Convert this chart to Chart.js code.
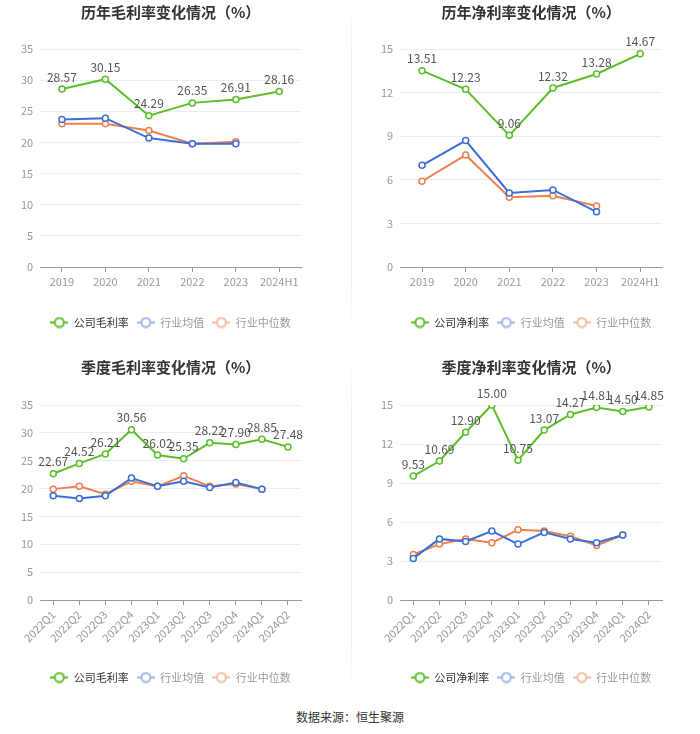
<!DOCTYPE html>
<html>
<head>
<meta charset="utf-8">
<script src="https://cdn.jsdelivr.net/npm/chart.js@4.4.1/dist/chart.umd.min.js"></script>
<style>
  body { margin: 0; background: #fff; font-family: "Noto Sans CJK SC", "Noto Sans", sans-serif; }
  #wrap { position: relative; width: 700px; height: 734px; }
  .box { position: absolute; width: 350px; height: 345px; }
  .sep { position: absolute; left: 351px; width: 1px; background: linear-gradient(#fff, #eee 20%, #eee 80%, #fff); }
  #src { position: absolute; top: 708px; left: 0; width: 700px; text-align: center; font-size: 12px; color: #333; }
</style>
</head>
<body>
<div id="wrap">
  <div class="box" style="left:0;top:0"><canvas id="c1" width="350" height="345"></canvas></div>
  <div class="box" style="left:350px;top:0"><canvas id="c2" width="350" height="345"></canvas></div>
  <div class="box" style="left:0;top:355px"><canvas id="c3" width="350" height="345"></canvas></div>
  <div class="box" style="left:350px;top:355px"><canvas id="c4" width="350" height="345"></canvas></div>
  <div class="sep" style="top:0;height:335px"></div>
  <div class="sep" style="top:355px;height:340px"></div>
  <div id="src">数据来源：恒生聚源</div>
</div>
<script>
var years = ['2019', '2020', '2021', '2022', '2023', '2024H1'];
var grossCompany = [28.57, 30.15, 24.29, 26.35, 26.91, 28.16];
var grossIndAvg = [23.7, 23.9, 20.7, 19.8, 19.8, null];
var grossIndMed = [23.0, 23.0, 21.9, 19.8, 20.1, null];
var netCompany = [13.51, 12.23, 9.06, 12.32, 13.28, 14.67];
var netIndAvg = [7.0, 8.7, 5.1, 5.3, 3.8, null];
var netIndMed = [5.9, 7.7, 4.8, 4.9, 4.2, null];

var quarters = ['2022Q1', '2022Q2', '2022Q3', '2022Q4', '2023Q1', '2023Q2', '2023Q3', '2023Q4', '2024Q1', '2024Q2'];
var qGrossCompany = [22.67, 24.52, 26.21, 30.56, 26.02, 25.35, 28.22, 27.90, 28.85, 27.48];
var qGrossIndAvg = [18.7, 18.2, 18.7, 21.9, 20.4, 21.3, 20.2, 21.1, 19.9, null];
var qGrossIndMed = [19.9, 20.4, 19.0, 21.3, 20.4, 22.3, 20.4, 20.8, 19.9, null];
var qNetCompany = [9.53, 10.69, 12.90, 15.00, 10.75, 13.07, 14.27, 14.81, 14.50, 14.85];
var qNetIndAvg = [3.2, 4.7, 4.5, 5.3, 4.3, 5.2, 4.7, 4.4, 5.0, null];
var qNetIndMed = [3.5, 4.3, 4.7, 4.4, 5.4, 5.3, 4.9, 4.2, 5.0, null];

var FONT = '"Noto Sans CJK SC", "Noto Sans", sans-serif';
var GREEN = '#5cbf2a', BLUE = '#3b6fd6', ORANGE = '#f07f50';

// little "line through hollow circle" icon for the legend
function legendIcon(color) {
    var c = document.createElement('canvas');
    c.width = 18; c.height = 12;
    var g = c.getContext('2d');
    g.strokeStyle = color;
    g.lineWidth = 2;
    g.beginPath(); g.moveTo(0, 6); g.lineTo(18, 6); g.stroke();
    g.beginPath(); g.arc(9, 6, 4.5, 0, Math.PI * 2);
    g.fillStyle = '#fff'; g.fill(); g.stroke();
    return c;
}

var valueLabels = {
    id: 'valueLabels',
    afterDatasetsDraw: function (chart) {
        var meta = chart.getDatasetMeta(0);
        var data = chart.data.datasets[0].data;
        var ctx = chart.ctx;
        ctx.save();
        ctx.font = '12px ' + FONT;
        ctx.fillStyle = '#555';
        ctx.textAlign = 'center';
        ctx.textBaseline = 'middle';
        meta.data.forEach(function (pt, i) {
            ctx.fillText(data[i].toFixed(2), pt.x, pt.y - 12);
        });
        ctx.restore();
    }
};

function makeChart(id, opt) {
    function ds(label, data, color) {
        return {
            label: label, data: data, borderColor: color, backgroundColor: '#fff',
            borderWidth: 2, pointRadius: 3, pointBorderWidth: 1.5, pointHoverRadius: 3,
            pointBackgroundColor: '#fff', tension: 0
        };
    }
    var icons = [legendIcon(GREEN), legendIcon('#9fb5ea'), legendIcon('#f6bba3')];
    var names = [opt.companyName, '行业均值', '行业中位数'];
    var textColors = ['#333', '#999', '#999'];
    var quarterly = opt.labels.length > 6;
    return new Chart(document.getElementById(id), {
        type: 'line',
        data: {
            labels: opt.labels,
            datasets: [
                ds(opt.companyName, opt.company, GREEN),
                ds('行业均值', opt.avg, BLUE),
                ds('行业中位数', opt.med, ORANGE)
            ]
        },
        plugins: [valueLabels],
        options: {
            responsive: false,
            animation: false,
            layout: { padding: { left: opt.padL, right: opt.padR, top: 0, bottom: 7 } },
            plugins: {
                tooltip: { enabled: false },
                title: {
                    display: true, text: opt.title, color: '#333', fullSize: false,
                    font: { family: FONT, size: 15, weight: 'bold' },
                    padding: { top: 3, bottom: opt.titleBottom }
                },
                legend: {
                    position: 'bottom',
                    fullSize: false,
                    labels: {
                        usePointStyle: true, pointStyleWidth: 18, boxHeight: 12,
                        padding: 8, font: { family: FONT, size: 11 },
                        generateLabels: function () {
                            return names.map(function (n, i) {
                                return { text: n, pointStyle: icons[i], fontColor: textColors[i],
                                    datasetIndex: i, hidden: false, lineWidth: 0 };
                            });
                        }
                    }
                }
            },
            scales: {
                x: {
                    offset: true,
                    afterFit: function (s) { s.height = opt.xHeight; },
                    border: { color: '#999' },
                    grid: { drawOnChartArea: false, drawTicks: true, tickLength: 5, color: '#999' },
                    ticks: {
                        color: '#999', font: { family: FONT, size: 11 }, padding: 3,
                        maxRotation: quarterly ? 45 : 0, minRotation: quarterly ? 45 : 0,
                        autoSkip: false
                    }
                },
                y: {
                    min: 0, max: opt.max,
                    border: { display: false },
                    grid: { color: '#e9ecf2', drawTicks: false },
                    ticks: { stepSize: opt.step, color: '#999', font: { family: FONT, size: 11 }, padding: 7 }
                }
            }
        }
    });
}

makeChart('c1', { title: '历年毛利率变化情况（%）', companyName: '公司毛利率', labels: years,
    company: grossCompany, avg: grossIndAvg, med: grossIndMed, max: 35, step: 5,
    padL: 14, padR: 49, titleBottom: 28, xHeight: 42 });
makeChart('c2', { title: '历年净利率变化情况（%）', companyName: '公司净利率', labels: years,
    company: netCompany, avg: netIndAvg, med: netIndMed, max: 15, step: 3,
    padL: 24, padR: 38, titleBottom: 28, xHeight: 42 });
makeChart('c3', { title: '季度毛利率变化情况（%）', companyName: '公司毛利率', labels: quarters,
    company: qGrossCompany, avg: qGrossIndAvg, med: qGrossIndMed, max: 35, step: 5,
    padL: 14, padR: 49, titleBottom: 29, xHeight: 64 });
makeChart('c4', { title: '季度净利率变化情况（%）', companyName: '公司净利率', labels: quarters,
    company: qNetCompany, avg: qNetIndAvg, med: qNetIndMed, max: 15, step: 3,
    padL: 24, padR: 38, titleBottom: 29, xHeight: 64 });
</script>
</body>
</html>
